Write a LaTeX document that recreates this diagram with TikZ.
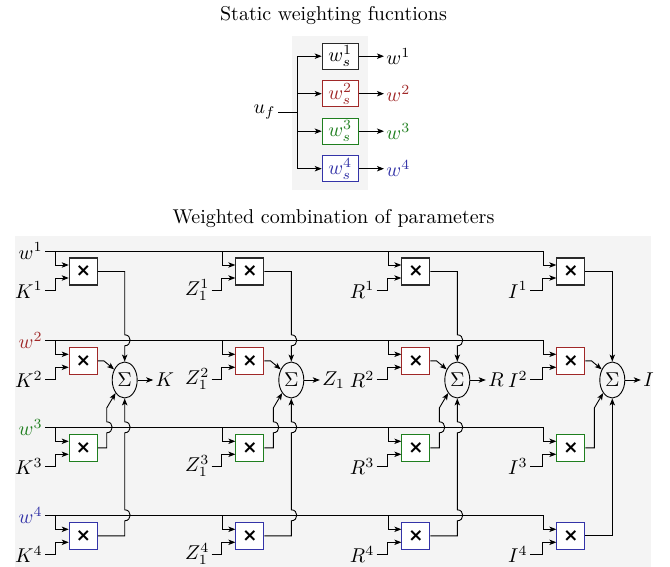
\documentclass[tikz,border=0pt]{standalone}
\usepackage{fontspec}
\newfontfamily\djb{DejaVu Sans Bold}
\usetikzlibrary{arrows.meta,shapes.geometric,calc}
\definecolor{c1}{HTML}{2A2A2A}
\definecolor{c2}{HTML}{A02828}
\definecolor{c3}{HTML}{1F7F1F}
\definecolor{c4}{HTML}{3434A8}
\colorlet{tc1}{black}
\colorlet{tc2}{c2}
\colorlet{tc3}{c3}
\colorlet{tc4}{c4}
\definecolor{bgc}{HTML}{F4F4F4}
\begin{document}
\begin{tikzpicture}[x=0.5pt,y=-0.5pt, line width=0.45pt,
  arr/.style={-{Stealth[length=3.5pt,width=2.7pt,inset=0.9pt]}},
  mbox/.style={draw, fill=white, minimum width=14pt, minimum height=13.5pt, inner sep=0pt, line width=0.55pt, font=\djb\fontsize{9}{10}\selectfont},
  wbox/.style={draw, fill=white, minimum width=18pt, minimum height=13pt, inner sep=0pt, line width=0.55pt},
  sig/.style={ellipse, draw, minimum width=12.5pt, minimum height=18pt, inner sep=0pt},
  lab/.style={inner sep=1pt},
  jd/.style n args={3}{insert path={.. controls (#1+#3,#2-5.5) and (#1+#3,#2+5.5) .. (#1,#2+5.5)}},
  ju/.style n args={3}{insert path={.. controls (#1+#3,#2+5.5) and (#1+#3,#2-5.5) .. (#1,#2-5.5)}}]
\useasboundingbox (0,0) rectangle (670,567);
\fill[bgc] (291.7,36) rectangle (368,190);
\fill[bgc] (15,236) rectangle (651,567);

\node (title1) at (333.5,15.5) {Static weighting fucntions};
\node (title2) at (333.5,219) {Weighted combination of parameters};

% top diagram
\coordinate (sp) at (297.7,112.5);
\node[lab, anchor=east] (uf) at (278,112.5) {$u_f$};
\draw (uf.east) -- (sp);
\foreach \rr/\yy in {1/56.2,2/93.7,3/131.2,4/168.7}{
  \node[wbox, draw=c\rr, text=tc\rr] (ws\rr) at (340.3,\yy) {$w_s^{\rr}$};
  \node[lab, anchor=west, text=tc\rr] (wo\rr) at (384,\yy) {$w^{\rr}$};
  \draw[arr] (sp) |- (ws\rr.west);
  \draw[arr] (ws\rr.east) -- (wo\rr.west);
}

% bottom diagram
\foreach \cc/\bx/\lx/\Lb/\Ob/\Jm in {1/55.7/45/K/K/7.3, 2/222.3/211.7/Z_1/Z_1/7.3, 3/388.3/376.7/R/R/7.3, 4/543.3/530/I/I/0}{
  \pgfmathsetmacro\sx{\bx+69}
  \pgfmathsetmacro\tx{\bx+51}
  \foreach \rr/\wy in {1/251,2/340.3,3/427.3,4/515.3}{
    \node[mbox, draw=c\rr] (b\cc\rr) at (\bx+27.6,\wy+20.5) {×};
    \node[lab, anchor=east] (in\cc\rr) at (\lx,\wy+39) {$\Lb^{\rr}$};
    \coordinate (j\cc\rr) at (\bx,\wy);
    \draw[arr] (in\cc\rr.east) -| ($(b\cc\rr.west)+(-13.6,6.5)$) -- ($(b\cc\rr.west)+(0,6.5)$);
    \draw[arr] (j\cc\rr) |- ($(b\cc\rr.west)+(0,-6.5)$);
  }
  \node[sig] (s\cc) at (\sx,380) {$\Sigma$};
  \node[lab, anchor=west] (o\cc) at (\sx+28.5,380) {$\Ob$};
  \draw[arr] (s\cc.east) -- (o\cc.west);
  \draw[arr] (b\cc1.east) -| (\sx,334.8) [jd={\sx}{340.3}{\Jm}] -- (s\cc.north);
  \draw[arr] (b\cc2.east) -- ++(6,0) -- (s\cc.135);
  \draw[arr] (b\cc3.east) -| (\tx,432.8) [ju={\tx}{427.3}{\Jm}] -- (\tx,408) -- (s\cc.235);
  \draw[arr] (b\cc4.east) -| (\sx,520.8) [ju={\sx}{515.3}{\Jm}] -- (\sx,432.8) [ju={\sx}{427.3}{\Jm}] -- (s\cc.south);
}
\foreach \rr/\wy in {1/251,2/340.3,3/427.3,4/515.3}{
  \node[lab, anchor=east, text=tc\rr] (w\rr) at (45,\wy) {$w^{\rr}$};
  \draw (w\rr.east) -- (j4\rr);
}
\end{tikzpicture}
\end{document}
